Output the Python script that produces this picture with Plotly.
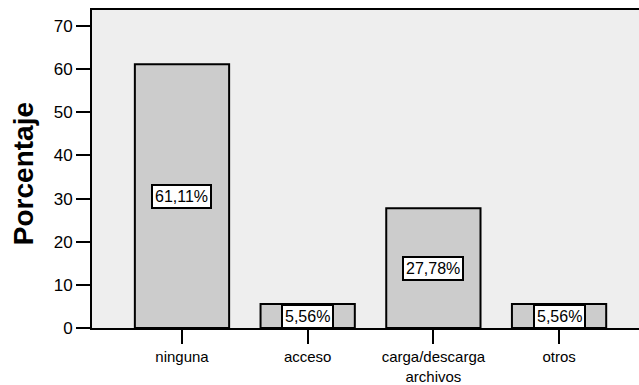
import plotly.graph_objects as go

# Porcentaje por tipo de incidencia
categorias = ["ninguna", "acceso", "carga/descarga<br>archivos", "otros"]
porcentajes = [61.11, 5.56, 27.78, 5.56]
etiquetas = ["61,11%", "5,56%", "27,78%", "5,56%"]
y_ticks = [0, 10, 20, 30, 40, 50, 60, 70]

fig = go.Figure()
fig.add_trace(go.Bar(
    x=list(range(len(categorias))),
    y=porcentajes,
    width=0.75,
    marker=dict(color="#CCCCCC", line=dict(color="black", width=2)),
    hoverinfo="skip",
))

# cajas de porcentaje en el centro de cada barra
for i, (v, t) in enumerate(zip(porcentajes, etiquetas)):
    fig.add_annotation(
        x=i, y=v / 2, text=t, showarrow=False,
        font=dict(family="Liberation Sans, Arial", size=16, color="black"),
        bgcolor="white", bordercolor="black", borderwidth=2, borderpad=2,
    )

# titulo del eje y
fig.add_annotation(
    x=-0.126, y=0.484, xref="paper", yref="paper", text="<b>Porcentaje</b>",
    xanchor="center", yanchor="middle",
    showarrow=False, textangle=-90,
    font=dict(family="Liberation Sans, Arial", size=28, color="black"),
)

fig.update_layout(
    width=639, height=385,
    margin=dict(l=92, r=0, t=10, b=57),
    paper_bgcolor="white", plot_bgcolor="#EEEEEE",
    showlegend=False,
    font=dict(family="Liberation Sans, Arial", color="black"),
    xaxis=dict(
        range=[-0.716, 3.636], automargin=False,
        tickmode="array", tickvals=list(range(len(categorias))), ticktext=categorias,
        ticks="outside", ticklen=14, tickwidth=2, tickcolor="black",
        tickfont=dict(size=15),
        showline=True, linecolor="black", linewidth=2, mirror=True,
        showgrid=False, zeroline=False,
    ),
    yaxis=dict(
        range=[0, 73.7], automargin=False,
        tickmode="array", tickvals=y_ticks,
        ticks="outside", ticklen=14, tickwidth=2, tickcolor="black",
        tickfont=dict(size=17),
        showline=True, linecolor="black", linewidth=2,
        showgrid=False, zeroline=False,
    ),
)

# quitar el margen por defecto del body para que el grafico llene la ventana
fig.write_html(
    "out.html",
    config={"displayModeBar": False},
    post_script="document.body.style.margin='0';document.body.style.overflow='hidden';",
)
